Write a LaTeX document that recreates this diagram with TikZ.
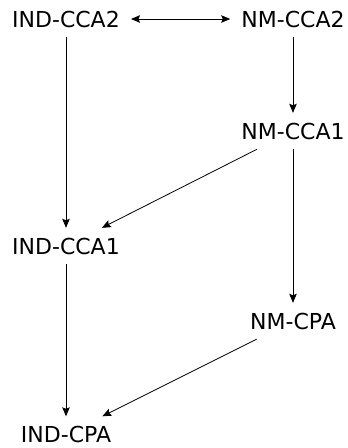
\documentclass[tikz,border=0pt]{standalone}
\usepackage{fontspec}
\setmainfont{DejaVu Sans}
\usetikzlibrary{arrows.meta}
\begin{document}
\begin{tikzpicture}[x=1pt,y=-1pt,
  scheme/.style={rectangle,inner xsep=11pt,inner ysep=10pt,text height=16pt,text depth=0pt,
    font=\fontsize{22}{26}\selectfont},
  tip/.style={Stealth[length=9pt,width=7.5pt,inset=1.5pt]},
  implies/.style={-{Stealth[length=9pt,width=7.5pt,inset=1.5pt]},line width=0.8pt},
  equiv/.style={{Stealth[length=9pt,width=7.5pt,inset=1.5pt]}-{Stealth[length=9pt,width=7.5pt,inset=1.5pt]},line width=0.8pt}]
\useasboundingbox (0,0) rectangle (348,448);
\node[scheme] (indcca2) at (66,19) {IND-CCA2};
\node[scheme] (nmcca2) at (293,19) {NM-CCA2};
\node[scheme] (nmcca1) at (293,131) {NM-CCA1};
\node[scheme] (indcca1) at (66,246) {IND-CCA1};
\node[scheme] (nmcpa) at (293,321) {NM-CPA};
\node[scheme] (indcpa) at (66,434.5) {IND-CPA};
\draw[equiv] (indcca2) -- (nmcca2);
\draw[implies] (indcca2) -- (indcca1);
\draw[implies] (nmcca2) -- (nmcca1);
\draw[implies] (nmcca1) -- (indcca1);
\draw[implies] (nmcca1) -- (nmcpa);
\draw[implies] (indcca1) -- (indcpa);
\draw[implies] (nmcpa) -- (indcpa);
\end{tikzpicture}
\end{document}
